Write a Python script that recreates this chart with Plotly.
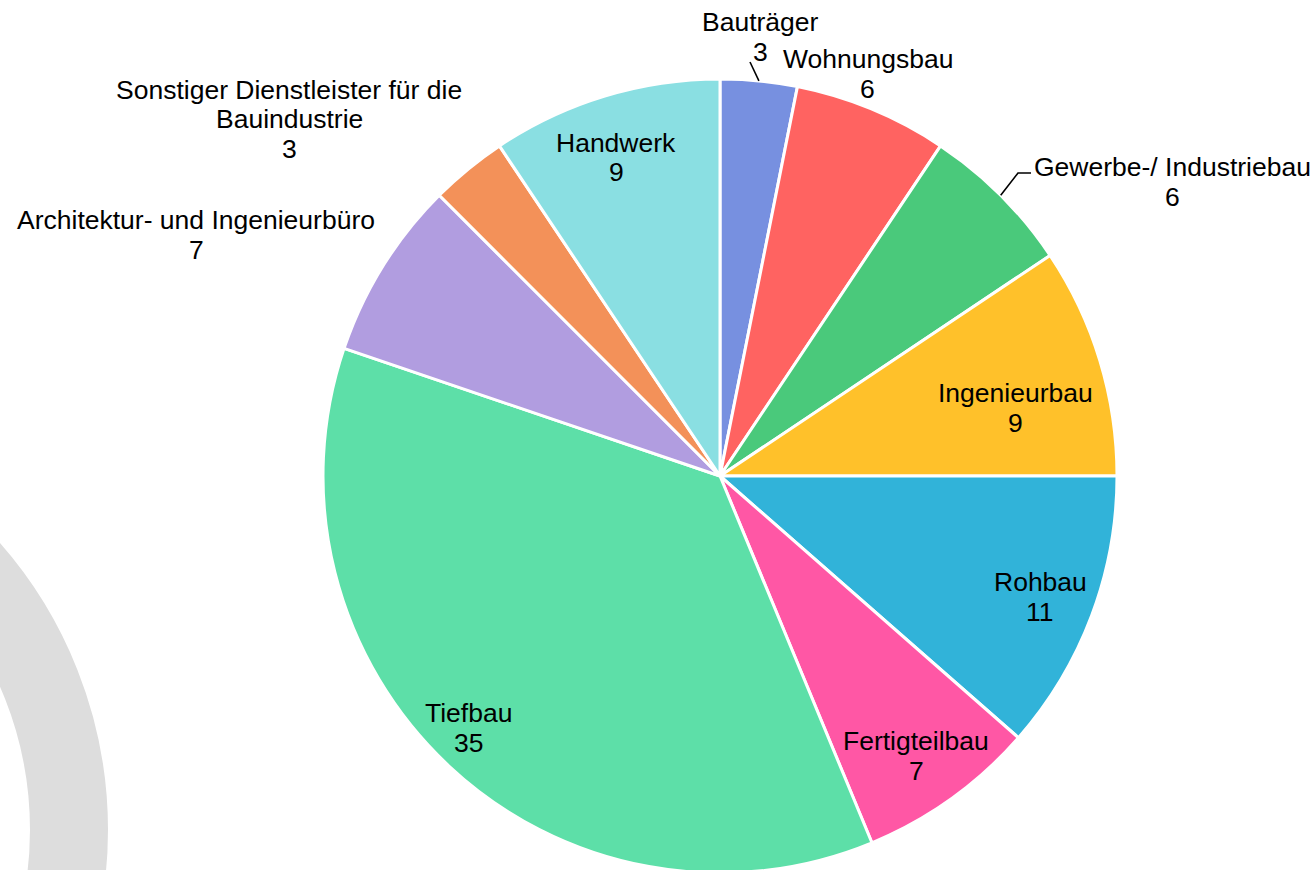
import math
import plotly.graph_objects as go

# Branchenverteilung (Anzahl Unternehmen)
categories = [
    "Bauträger",
    "Wohnungsbau",
    "Gewerbe-/ Industriebau",
    "Ingenieurbau",
    "Rohbau",
    "Fertigteilbau",
    "Tiefbau",
    "Architektur- und Ingenieurbüro",
    "Sonstiger Dienstleister für die Bauindustrie",
    "Handwerk",
]
values = [3, 6, 6, 9, 11, 7, 35, 7, 3, 9]
colors = [
    "#7790E0", "#FF6361", "#4AC97B", "#FFC12A", "#31B3D9",
    "#FF57A5", "#5DDFA8", "#B19DE0", "#F39159", "#8ADFE2",
]

W, H = 1316, 876          # canvas slightly taller than the window; the bottom is cut off
CX, CY, R = 720, 476, 397  # pie centre / domain radius in pixels


def px(x):
    return x / W


def py(y):
    return 1 - y / H


# label layout: wrapped name lines and the pixel centre of the first line
label_layout = {
    "Bauträger": (["Bauträger"], 760, 22),
    "Wohnungsbau": (["Wohnungsbau"], 868, 59),
    "Gewerbe-/ Industriebau": (["Gewerbe-/ Industriebau"], 1172, 167),
    "Ingenieurbau": (["Ingenieurbau"], 1015, 393),
    "Rohbau": (["Rohbau"], 1040, 582),
    "Fertigteilbau": (["Fertigteilbau"], 916, 741),
    "Tiefbau": (["Tiefbau"], 468, 713),
    "Architektur- und Ingenieurbüro": (["Architektur- und Ingenieurbüro"], 196, 220),
    "Sonstiger Dienstleister für die Bauindustrie": (
        ["Sonstiger Dienstleister für die", "Bauindustrie"], 289, 90),
    "Handwerk": (["Handwerk"], 616, 143),
}
LINE = 29.5
FONT = dict(family="Liberation Sans, Arial, sans-serif", size=26.5, color="#000000")

fig = go.Figure()
fig.add_trace(go.Pie(
    labels=categories,
    values=values,
    sort=False,
    direction="clockwise",
    rotation=0,
    marker=dict(colors=colors, line=dict(color="white", width=3)),
    textinfo="none",
    hoverinfo="label+value",
    showlegend=False,
    domain=dict(x=[px(CX - R), px(CX + R)], y=[py(CY + R), py(CY - R)]),
))

annotations = []
for cat, val in zip(categories, values):
    lines, x, y0 = label_layout[cat]
    for i, t in enumerate(lines + [str(val)]):
        annotations.append(dict(
            x=px(x), y=py(y0 + i * LINE), xref="paper", yref="paper",
            text=t, showarrow=False, xanchor="center", yanchor="middle",
            font=FONT,
        ))

# leader lines for the two small outside labels, starting at the slice edge
total = sum(values)
cum = 0
mid_angle = {}
for cat, val in zip(categories, values):
    mid_angle[cat] = (cum + val / 2) / total * 2 * math.pi
    cum += val


def edge(cat, r):
    a = mid_angle[cat]
    return CX + r * math.sin(a), CY - r * math.cos(a)


shapes = []
# decorative grey ring in the lower-left corner
RING_CX, RING_CY, RING_R = -327, 830, 396
shapes.append(dict(
    type="circle", xref="paper", yref="paper", layer="below",
    x0=px(RING_CX - RING_R), x1=px(RING_CX + RING_R),
    y0=py(RING_CY + RING_R), y1=py(RING_CY - RING_R),
    line=dict(color="#DDDDDD", width=78), fillcolor="rgba(0,0,0,0)",
))

ex, ey = edge("Bauträger", R)
shapes.append(dict(type="path", xref="paper", yref="paper",
                   path=f"M {px(ex)} {py(ey)} L {px(750)} {py(62)}",
                   line=dict(color="#000000", width=1.6)))
ex, ey = edge("Gewerbe-/ Industriebau", R)
shapes.append(dict(type="path", xref="paper", yref="paper",
                   path=f"M {px(ex)} {py(ey)} L {px(1018)} {py(173)} L {px(1031)} {py(173)}",
                   line=dict(color="#000000", width=1.6)))

fig.update_layout(
    width=W, height=H,
    margin=dict(l=0, r=0, t=0, b=0),
    paper_bgcolor="white", plot_bgcolor="white",
    annotations=annotations,
    shapes=shapes,
)

fig.write_html(
    "out.html",
    post_script="document.documentElement.style.overflow='hidden';"
                "document.body.style.overflow='hidden';document.body.style.margin='0';",
)
